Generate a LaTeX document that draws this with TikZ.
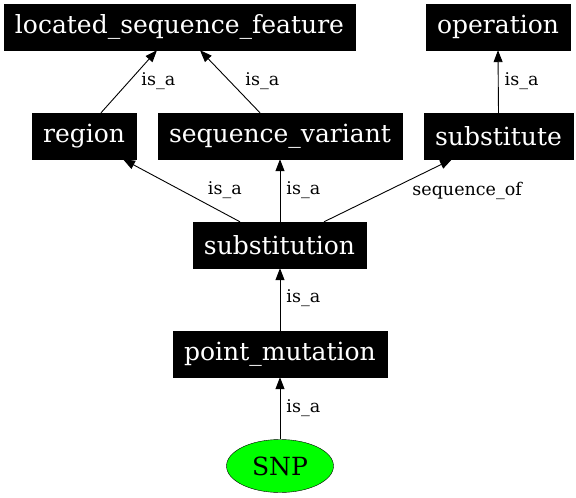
\documentclass[tikz,border=0pt]{standalone}
\usepackage{fontspec}
\setmainfont{DejaVu Serif}
\usetikzlibrary{positioning}
\usetikzlibrary{arrows.meta}
\usetikzlibrary{shapes.geometric}

\tikzset{
    term/.style={fill=black, draw=black, text=white,
        font=\fontsize{25}{30}\selectfont,
        inner xsep=11pt, inner ysep=0pt, minimum height=46pt},
    isa/.style={-{Triangle[length=12pt,width=9pt]}, line width=0.9pt},
    lbl/.style={font=\fontsize{17.5}{20}\selectfont, inner sep=0pt}
}

\begin{document}
\begin{tikzpicture} [
            x=1pt, y=-1pt
        ]
        \useasboundingbox (0,0) rectangle (576,498);
        \node[term] (lsf) at (179.5,27) {located\_sequence\_feature};
        \node[term] (operation) at (498,27) {operation};
        \node[term] (region) at (84,136) {region};
        \node[term] (seqvar) at (280,136) {sequence\_variant};
        \node[term] (substitute) at (498.5,136) {substitute};
        \node[term] (substitution) at (279.5,245) {substitution};
        \node[term] (pointmut) at (280,354) {point\_mutation};
        \node[ellipse, draw=black, fill=green, font=\fontsize{25}{30}\selectfont,
            minimum width=107pt, minimum height=53pt, inner sep=0pt] (snp) at (280,466) {SNP};
        % is_a / sequence_of links
        \draw[isa] ([xshift=17pt]region.north) -- node[lbl, right=12pt] {is\_a} ([xshift=-22.5pt]lsf.south);
        \draw[isa] ([xshift=-20pt]seqvar.north) -- node[lbl, right=15pt] {is\_a} ([xshift=20.5pt]lsf.south);
        \draw[isa] (substitute.north) -- node[lbl, right=6pt] {is\_a} (operation.south);
        \draw[isa] ([xshift=-39.5pt]substitution.north) -- node[lbl, right=26pt] {is\_a} ([xshift=39pt]region.south);
        \draw[isa] ([xshift=0.5pt]substitution.north) -- node[lbl, right=6pt] {is\_a} (seqvar.south);
        \draw[isa] ([xshift=44.5pt]substitution.north) -- node[lbl, right=24pt] {sequence\_of} ([xshift=-46.5pt]substitute.south);
        \draw[isa] (pointmut.north) -- node[lbl, right=6pt, pos=0.52] {is\_a} (substitution.south -| pointmut.north);
        \draw[isa] (snp.north) -- node[lbl, right=6pt, pos=0.51] {is\_a} (pointmut.south);
    \end{tikzpicture}
\end{document}
